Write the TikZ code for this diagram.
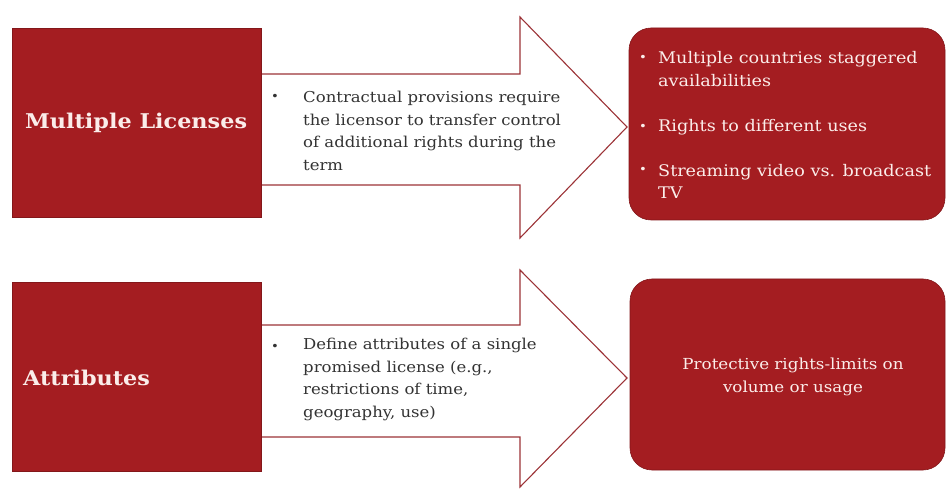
\documentclass[tikz,border=0pt]{standalone}
\usepackage{fontspec}
\setmainfont[FakeStretch=1.1]{DejaVu Serif}
\definecolor{boxred}{HTML}{A41D21}
\definecolor{arrowline}{HTML}{9C3337}
\definecolor{boxtext}{HTML}{FBEDEA}
\definecolor{bodytext}{HTML}{333333}
\begin{document}
\begin{tikzpicture}[x=1pt,y=-1pt,
  leftbox/.style={fill=boxred,draw=boxred!80!black,line width=0.6pt},
  rightbox/.style={fill=boxred,draw=boxred!80!black,line width=0.6pt,rounded corners=22pt},
  bigarrow/.style={fill=white,draw=arrowline,line width=1.1pt,line join=miter},
  title/.style={font=\fontsize{20.3}{24}\selectfont\bfseries,text=boxtext,inner sep=0pt},
  armtext/.style={font=\fontsize{15}{22.5}\selectfont,text=bodytext,align=left,inner sep=0pt,anchor=west},
  boxitem/.style={font=\fontsize{16}{22.5}\selectfont,text=boxtext,align=left,inner sep=0pt,anchor=west},
  centitem/.style={font=\fontsize{15.2}{23}\selectfont,text=boxtext,align=center,inner sep=0pt},
  bul/.style={font=\fontsize{12}{13}\selectfont,inner sep=0pt}
]
\useasboundingbox (0,0) rectangle (946,489);
% ---- row 1
\draw[bigarrow] (250,74) -- (520,74) -- (520,17) -- (627,127) -- (520,238) -- (520,185) -- (250,185) -- cycle;
\draw[leftbox] (12,28) rectangle (261,217);
\node[title,anchor=west] (t1) at (25,123) {Multiple Licenses};
\node[bul,text=bodytext] (b1) at (275,97) {•};
\node[armtext] (a1) at (303,131) {Contractual provisions require\\the licensor to transfer control\\of additional rights during the\\term};
\draw[rightbox] (629,28) rectangle (945,220);
\node[bul,text=boxtext] (r1b1) at (643,58) {•};
\node[boxitem] (r1i1) at (658,69) {Multiple countries staggered\\availabilities};
\node[bul,text=boxtext] (r1b2) at (643,127) {•};
\node[boxitem] (r1i2) at (658,127) {Rights to different uses};
\node[bul,text=boxtext] (r1b3) at (643,170) {•};
\node[boxitem] (r1i3) at (658,181.5) {Streaming video vs. broadcast\\TV};
% ---- row 2
\draw[bigarrow] (250,325) -- (520,325) -- (520,270) -- (627,378) -- (520,487) -- (520,437) -- (250,437) -- cycle;
\draw[leftbox] (12,282) rectangle (261,471);
\node[title,anchor=west] (t2) at (23,378) {Attributes};
\node[bul,text=bodytext] (b2) at (275,347) {•};
\node[armtext] (a2) at (303,379.5) {Define attributes of a single\\promised license (e.g.,\\restrictions of time,\\geography, use)};
\draw[rightbox] (630,279) rectangle (945,470);
\node[centitem] (r2) at (793,376.5) {Protective rights-limits on\\volume or usage};
\end{tikzpicture}
\end{document}
